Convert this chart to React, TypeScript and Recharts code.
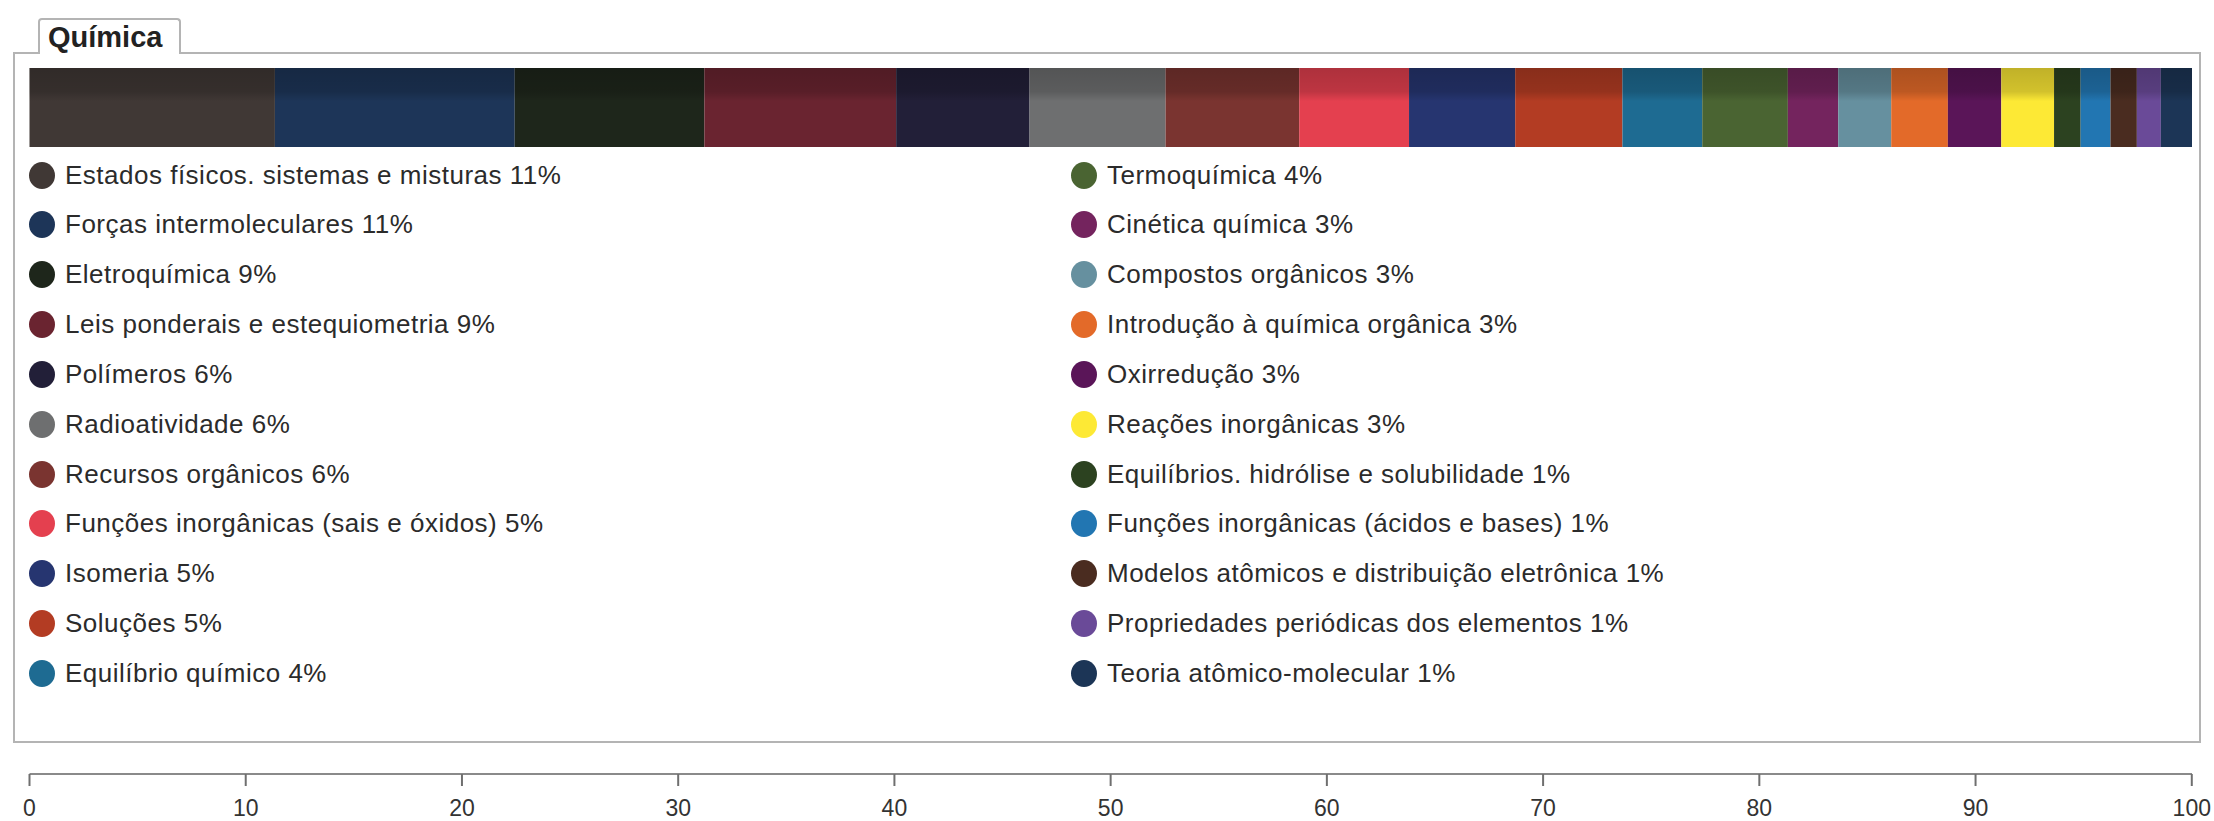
import React from 'react';
import { BarChart, Bar, XAxis, YAxis } from 'recharts';

// topics in the order they are stacked in the bar
const topics = [
  'Estados físicos. sistemas e misturas',
  'Forças intermoleculares',
  'Eletroquímica',
  'Leis ponderais e estequiometria',
  'Polímeros',
  'Radioatividade',
  'Recursos orgânicos',
  'Funções inorgânicas (sais e óxidos)',
  'Isomeria',
  'Soluções',
  'Equilíbrio químico',
  'Termoquímica',
  'Cinética química',
  'Compostos orgânicos',
  'Introdução à química orgânica',
  'Oxirredução',
  'Reações inorgânicas',
  'Equilíbrios. hidrólise e solubilidade',
  'Funções inorgânicas (ácidos e bases)',
  'Modelos atômicos e distribuição eletrônica',
  'Propriedades periódicas dos elementos',
  'Teoria atômico-molecular',
];

// share of each topic (segment widths)
const shares = [
  11.35, 11.09, 8.77, 8.87, 6.17, 6.29, 6.18, 5.08, 4.91, 4.96, 3.69,
  3.96, 2.33, 2.45, 2.62, 2.47, 2.44, 1.23, 1.38, 1.22, 1.11, 1.44,
];

// rounded percentages printed in the legend
const labelPercents = [11, 11, 9, 9, 6, 6, 6, 5, 5, 5, 4, 4, 3, 3, 3, 3, 3, 1, 1, 1, 1, 1];

const colors = [
  '#403835', '#1d3558', '#1e261b', '#6a2430', '#221f38', '#6e6f70',
  '#7a3430', '#e4404f', '#263570', '#b33c23', '#1e6b92', '#4a6432',
  '#74245e', '#66909f', '#e36a29', '#5a1558', '#fde935', '#2c4220',
  '#2276b2', '#4a2c20', '#6a4a98', '#1c3556',
];

const axisTicks = [0, 10, 20, 30, 40, 50, 60, 70, 80, 90, 100];

const chartData = [
  shares.reduce<Record<string, number | string>>(
    (row, v, i) => {
      row[`s${i}`] = v;
      return row;
    },
    { name: 'Química' }
  ),
];

const ShadedRect = (props: any) => {
  const { x, y, width, height, fill } = props;
  return (
    <g>
      <rect x={x} y={y} width={width} height={height} fill={fill} />
      <rect x={x} y={y} width={width} height={height} fill="url(#barShade)" />
    </g>
  );
};

const FONT = '"Liberation Sans", Arial, sans-serif';
const ROW_H = 49.85;

const App: React.FC = () => {
  const half = 11;
  return (
    <div
      style={{
        position: 'absolute',
        left: 0,
        top: 0,
        width: 2214,
        height: 821,
        background: '#fff',
        fontFamily: FONT,
        overflow: 'hidden',
      }}
    >
      {/* panel */}
      <div
        style={{
          position: 'absolute',
          left: 13,
          top: 52,
          width: 2188,
          height: 691,
          border: '2px solid #b4b4b4',
          boxSizing: 'border-box',
        }}
      />
      {/* tab */}
      <div
        style={{
          position: 'absolute',
          left: 38,
          top: 18,
          width: 143,
          height: 36,
          border: '2px solid #b4b4b4',
          borderBottom: 'none',
          borderRadius: '4px 4px 0 0',
          background: '#fff',
          boxSizing: 'border-box',
          fontWeight: 'bold',
          fontSize: 29,
          color: '#222',
          paddingLeft: 8,
          lineHeight: '34px',
        }}
      >
        Química
      </div>

      <div style={{ position: 'absolute', left: 0, top: 0 }}>
        <BarChart
          width={2214}
          height={821}
          data={chartData}
          layout="vertical"
          barCategoryGap={0}
          margin={{ top: 68, right: 22, bottom: 0, left: 29.5 }}
        >
          <defs>
            <linearGradient id="barShade" x1="0" y1="0" x2="0" y2="1">
              <stop offset="0" stopColor="#000" stopOpacity={0.24} />
              <stop offset="0.3" stopColor="#000" stopOpacity={0.17} />
              <stop offset="0.42" stopColor="#000" stopOpacity={0} />
              <stop offset="1" stopColor="#000" stopOpacity={0} />
            </linearGradient>
          </defs>
          <XAxis
            type="number"
            domain={[0, 100]}
            ticks={axisTicks}
            height={47}
            axisLine={{ stroke: '#8a8a8a', strokeWidth: 2 }}
            tickLine={{ stroke: '#6f6f6f', strokeWidth: 2 }}
            tickSize={12}
            tickMargin={14}
            tick={{ fill: '#333', fontSize: 23, fontFamily: FONT }}
            interval={0}
          />
          <YAxis type="category" dataKey="name" hide padding={{ top: 0, bottom: 627 }} />
          {shares.map((_, i) => (
            <Bar
              key={i}
              dataKey={`s${i}`}
              stackId="a"
              fill={colors[i]}
              shape={ShadedRect}
              isAnimationActive={false}
            />
          ))}
        </BarChart>
      </div>

      {/* legend */}
      {topics.map((t, i) => {
        const col = i < half ? 0 : 1;
        const row = col === 0 ? i : i - half;
        const cy = 175 + row * ROW_H;
        const dotX = col === 0 ? 42 : 1084;
        return (
          <div
            key={t}
            style={{
              position: 'absolute',
              left: dotX - 13,
              top: cy - 17,
              height: 34,
              display: 'flex',
              alignItems: 'center',
              whiteSpace: 'nowrap',
              fontSize: 26,
              letterSpacing: 0.5,
              color: '#2b2b2b',
            }}
          >
            <span
              style={{
                display: 'inline-block',
                width: 26,
                height: 27,
                borderRadius: '50%',
                background: colors[i],
                marginRight: 10,
              }}
            />
            {`${t} ${labelPercents[i]}%`}
          </div>
        );
      })}
    </div>
  );
};

export default App;
